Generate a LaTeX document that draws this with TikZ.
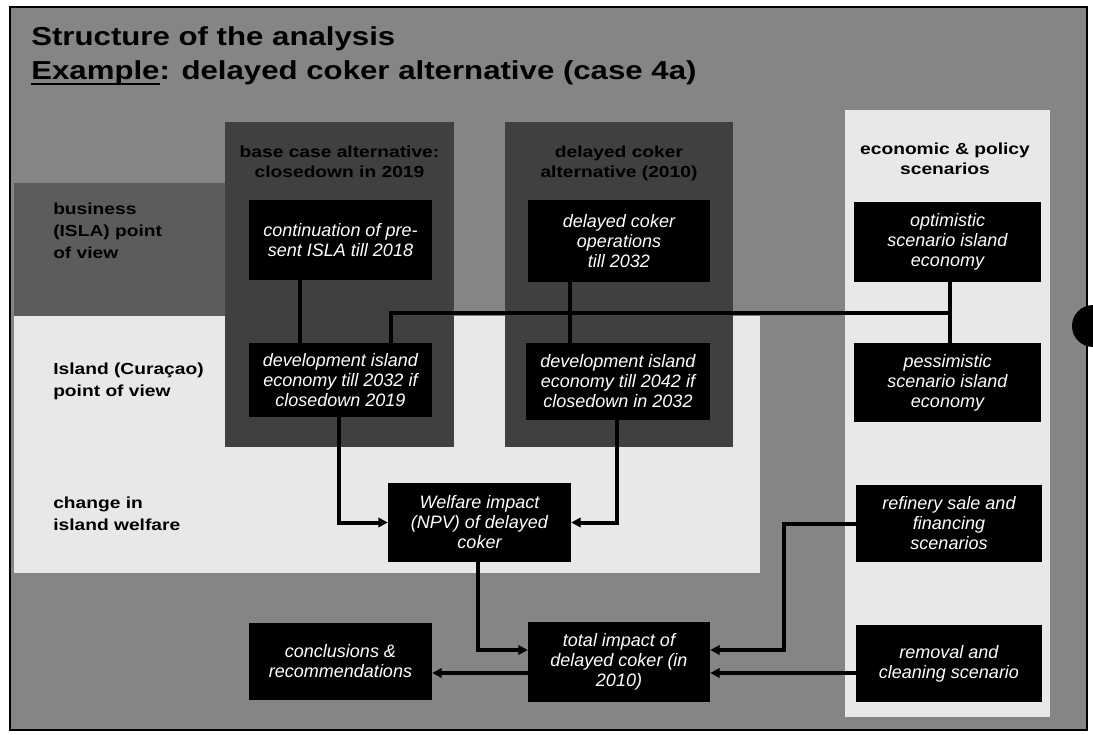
\documentclass[tikz,border=0pt]{standalone}
\usepackage{fontspec}
\setmainfont{Liberation Sans}
\newfontfamily\widefont[FakeStretch=1.2]{Liberation Sans}
\usetikzlibrary{arrows.meta}
\newcommand\myul[1]{\setbox0\hbox{#1}\rlap{\rule[-4.5pt]{\wd0}{1.6pt}}#1}
\definecolor{bgc}{gray}{0.52}
\definecolor{darkc}{gray}{0.25}
\definecolor{bizc}{gray}{0.36}
\definecolor{lightc}{gray}{0.91}
\begin{document}
\begin{tikzpicture}[x=0.75pt,y=-0.75pt,
  wh/.style 2 args={minimum width={#1*0.75pt},minimum height={#2*0.75pt}},
  box/.style={fill=black,text=white,inner sep=0pt,align=center,font=\itshape\fontsize{13.5}{15}\selectfont},
  lbl/.style={inner sep=0pt,align=left,anchor=north west,font=\widefont\bfseries\fontsize{12}{16.5}\selectfont},
  hdr/.style={inner sep=0pt,align=center,anchor=north,font=\widefont\bfseries\fontsize{12}{14.5}\selectfont},
  ttl/.style={inner sep=0pt,anchor=base west,font=\widefont\bfseries\fontsize{19.5}{22}\selectfont},
  link/.style={line width=3pt,black},
  arr/.style={link,-{Triangle[length=7pt,width=7pt]}}]
\useasboundingbox (0,0) rectangle (1093,735);
\fill[white] (0,0) rectangle (1093,735);
% panels
\fill[bgc] (10,7) rectangle (1087,730);
\fill[lightc] (845,110) rectangle (1050,717);
\fill[lightc] (14,316) rectangle (760,573);
\fill[bizc] (14,183) rectangle (225,316);
\fill[darkc] (225,122) rectangle (454,447);
\fill[darkc] (505,122) rectangle (733,447);
\draw[line width=2.2pt] (10,7) rectangle (1087,730);
\begin{scope}
\clip (0,0) rectangle (1093,735);
\fill[black] (1093,326) circle[radius=21];
\end{scope}
% titles
\node[ttl] (t1) at (31,45.5) {Structure of the analysis};
\node[ttl] (t2) at (31,79.5) {\myul{Example}: delayed coker alternative (case 4a)};
% headers and side labels
\node[hdr] (h1) at (339.5,146) {base case alternative:\\closedown in 2019};
\node[hdr] (h2) at (619,146) {delayed coker\\alternative (2010)};
\node[hdr] (h3) at (945,143) {economic \& policy\\scenarios};
\node[lbl] (l1) at (53,203) {business\\(ISLA) point\\of view};
\node[lbl] (l2) at (53,363) {Island (Curaçao)\\point of view};
\node[lbl] (l3) at (53,497) {change in\\island welfare};
% boxes
\node[box,wh={183}{80}] (cont) at (340.5,240) {continuation of pre-\\sent ISLA till 2018};
\node[box,wh={182}{82}] (dco) at (619,241) {delayed coker\\operations\\till 2032};
\node[box,wh={187}{80}] (opt) at (947.5,242) {optimistic\\scenario island\\economy};
\node[box,wh={183}{74}] (dev1) at (340.5,380) {development island\\economy till 2032 if\\closedown 2019};
\node[box,wh={184}{77}] (dev2) at (618,381.5) {development island\\economy till 2042 if\\closedown in 2032};
\node[box,wh={187}{79}] (pess) at (947.5,382.5) {pessimistic\\scenario island\\economy};
\node[box,wh={183}{79}] (welf) at (479.5,522.5) {Welfare impact\\(NPV) of delayed\\coker};
\node[box,wh={186}{77}] (refi) at (949,523.5) {refinery sale and\\financing\\scenarios};
\node[box,wh={183}{77}] (concl) at (340.5,661.5) {conclusions \&\\recommendations};
\node[box,wh={182}{80}] (total) at (619,662) {total impact of\\delayed coker (in\\2010)};
\node[box,wh={186}{77}] (remov) at (949,663.5) {removal and\\cleaning scenario};
% helper coordinates
\coordinate (c1) at (300,0);
\coordinate (c2) at (391,0);
\coordinate (c3) at (570,0);
\coordinate (c4) at (950,0);
\coordinate (c5) at (339,0);
\coordinate (c6) at (617,0);
\coordinate (c7) at (478,0);
\coordinate (c8) at (784,0);
\coordinate (hy) at (0,313);
\coordinate (r2) at (0,650);
\coordinate (r3) at (0,673);
% connectors
\draw[link] (cont.south -| c1) -- (dev1.north -| c1);
\draw[link] (dco.south -| c3) -- (dev2.north -| c3);
\draw[link] (opt.south -| c4) -- (pess.north -| c4);
\draw[link] (dev1.north -| c2) -- (c2 |- hy) -- (c4 |- hy);
\draw[arr] (dev1.south -| c5) |- (welf.west);
\draw[arr] (dev2.south -| c6) |- (welf.east);
\draw[arr] (welf.south -| c7) |- (total.west |- r2);
\draw[arr] (refi.west) -| (c8 |- r2) -- (total.east |- r2);
\draw[arr] (total.west |- r3) -- (concl.east |- r3);
\draw[arr] (remov.west |- r3) -- (total.east |- r3);
\end{tikzpicture}
\end{document}
